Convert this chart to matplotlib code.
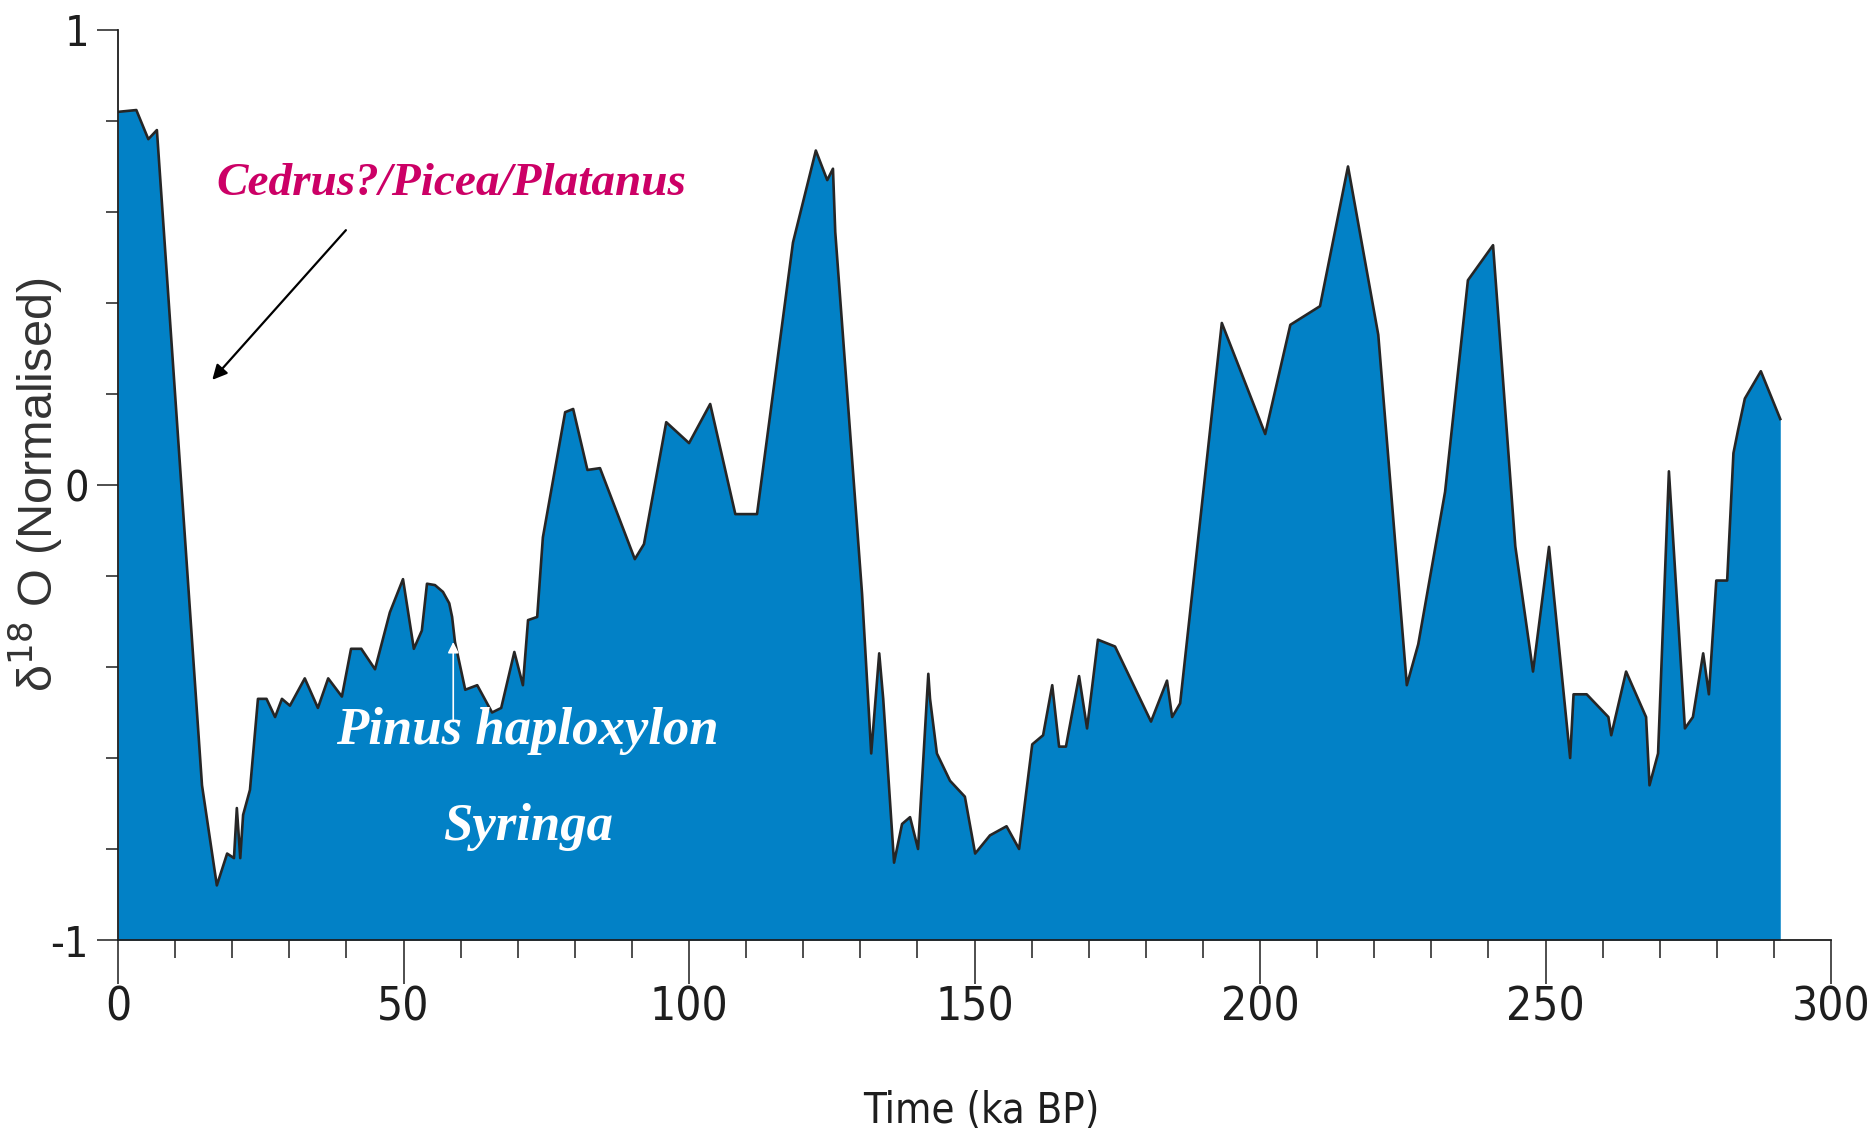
import matplotlib
matplotlib.use('Agg')
import matplotlib.pyplot as plt
from matplotlib import font_manager
from matplotlib.ticker import MultipleLocator, FixedLocator

# Age (ka BP) and normalised d18O values
ages = [0, 3.2, 5.3, 6.8, 14.7, 17.3, 19.1, 20.3, 20.8, 21.4, 21.9, 23.1,
        24.5, 26.0, 27.5, 28.7, 30.1, 32.7, 35.0, 36.8, 39.2, 40.8, 42.6,
        45.0, 47.6, 49.9, 51.8, 53.2, 54.1, 55.5, 56.9, 58.0, 58.5, 59.0,
        60.8, 62.9, 65.5, 67.1, 69.4, 70.9, 71.8, 73.4, 74.4, 78.3, 79.7,
        82.2, 84.4, 90.5, 92.1, 96.0, 100.0, 103.7, 108.1, 111.9, 118.2,
        122.2, 124.2, 125.2, 125.6, 130.3, 131.9, 133.3, 134.0, 135.9,
        137.3, 138.7, 140.1, 141.9, 142.2, 143.4, 145.7, 148.3, 150.1,
        152.7, 155.6, 157.8, 160.1, 162.0, 163.6, 164.8, 166.0, 168.3,
        169.7, 171.6, 174.6, 180.9, 183.7, 184.6, 186.0, 193.3, 200.9,
        205.3, 210.5, 215.4, 220.7, 225.7, 227.7, 232.4, 236.4, 240.8,
        244.7, 247.8, 250.6, 254.3, 254.9, 257.2, 261.0, 261.5, 264.1,
        267.6, 268.2, 269.7, 271.6, 274.4, 275.8, 277.6, 278.6, 279.9,
        281.8, 282.9, 283.7, 284.9, 287.7, 291.1]
d18o = [0.82, 0.824, 0.76, 0.78, -0.66, -0.88, -0.81, -0.82, -0.71, -0.82,
        -0.725, -0.67, -0.47, -0.47, -0.51, -0.47, -0.485, -0.425, -0.49,
        -0.425, -0.465, -0.36, -0.36, -0.405, -0.28, -0.207, -0.36, -0.32,
        -0.217, -0.22, -0.235, -0.26, -0.29, -0.345, -0.45, -0.44, -0.50,
        -0.49, -0.367, -0.44, -0.297, -0.29, -0.115, 0.16, 0.167, 0.033,
        0.037, -0.163, -0.13, 0.138, 0.092, 0.178, -0.064, -0.064, 0.533,
        0.735, 0.67, 0.695, 0.556, -0.24, -0.59, -0.37, -0.47, -0.83,
        -0.745, -0.73, -0.80, -0.415, -0.47, -0.59, -0.65, -0.685, -0.81,
        -0.77, -0.75, -0.80, -0.57, -0.55, -0.44, -0.575, -0.575, -0.42,
        -0.535, -0.34, -0.355, -0.52, -0.43, -0.51, -0.48, 0.356, 0.112,
        0.352, 0.393, 0.70, 0.33, -0.44, -0.35, -0.015, 0.45, 0.527,
        -0.135, -0.41, -0.136, -0.60, -0.46, -0.46, -0.51, -0.55, -0.41,
        -0.51, -0.66, -0.59, 0.03, -0.535, -0.51, -0.37, -0.46, -0.21,
        -0.21, 0.07, 0.12, 0.19, 0.25, 0.145]

y_major = [-1, 0, 1]
y_labels = ['-1', '0', '1']
x_major = [0, 50, 100, 150, 200, 250, 300]

# pick a condensed sans if one is installed, otherwise plain Liberation Sans
names = {f.name for f in font_manager.fontManager.ttflist}
cond_files = [f for f in font_manager.fontManager.ttflist
              if f.name == 'DejaVu Sans' and 'Condensed' in f.fname
              and 'Bold' not in f.fname and 'Oblique' not in f.fname]
if 'Liberation Sans Narrow' in names:
    cond = dict(family='Liberation Sans Narrow')
elif cond_files:
    cond = dict(family='DejaVu Sans', stretch='condensed')
else:
    cond = dict(family='Liberation Sans')

serif = ['Liberation Serif', 'DejaVu Serif']
ink = '#1e1e1e'

fig = plt.figure(figsize=(18.74, 11.39), dpi=100)
ax = fig.add_axes([0.0630, 0.1747, 0.9141, 0.7990])

ax.fill_between(ages, d18o, -1, color='#0281c6', lw=0)
ax.plot(ages, d18o, color='#262626', lw=1.9)

ax.set_xlim(0, 300)
ax.set_ylim(-1, 1)

for side in ['top', 'right']:
    ax.spines[side].set_visible(False)
for side in ['left', 'bottom']:
    ax.spines[side].set_color(ink)
    ax.spines[side].set_linewidth(1.3)

ax.xaxis.set_major_locator(FixedLocator(x_major))
ax.xaxis.set_minor_locator(MultipleLocator(10))
ax.yaxis.set_major_locator(FixedLocator(y_major))
ax.yaxis.set_minor_locator(MultipleLocator(0.2))
ax.set_yticklabels(y_labels)

ax.tick_params(axis='x', which='major', direction='out', length=32, width=1.1,
               color=ink, pad=1, labelsize=33, labelcolor=ink)
ax.tick_params(axis='x', which='minor', direction='out', length=13, width=1.1,
               color=ink)
ax.tick_params(axis='y', which='major', direction='out', length=15, width=1.1,
               color=ink, pad=6, labelsize=31, labelcolor=ink)
ax.tick_params(axis='y', which='minor', direction='out', length=9, width=1.1,
               color=ink)
for lab in ax.get_xticklabels() + ax.get_yticklabels():
    lab.set_family(cond['family'])
    if 'stretch' in cond:
        lab.set_stretch(cond['stretch'])

ax.set_xlabel('Time (ka BP)', fontsize=30, color=ink, **cond)
ax.xaxis.set_label_coords(0.504, -0.165)
ax.set_ylabel('δ$^{18}$ O (Normalised)', fontsize=35, color='#333333',
              family=['Liberation Sans', 'DejaVu Sans'])
ax.yaxis.set_label_coords(-0.031, 0.5)

# pollen taxa annotations
ax.text(58.4, 0.637, 'Cedrus?/Picea/Platanus', color='#cc0066', fontsize=34,
        family=serif, style='italic', weight='bold', ha='center', va='baseline')
ax.annotate('', xy=(16.5, 0.231), xytext=(39.9, 0.56),
            arrowprops=dict(arrowstyle='-|>', color='black', lw=1.6,
                            mutation_scale=22, shrinkA=0, shrinkB=0))

ax.text(71.7, -0.569, 'Pinus haploxylon', color='white', fontsize=38,
        family=serif, style='italic', weight='bold', ha='center', va='baseline')
ax.text(71.8, -0.78, 'Syringa', color='white', fontsize=38,
        family=serif, style='italic', weight='bold', ha='center', va='baseline')
ax.annotate('', xy=(58.7, -0.345), xytext=(58.7, -0.52),
            arrowprops=dict(arrowstyle='-|>', color='white', lw=1.2,
                            mutation_scale=16, shrinkA=0, shrinkB=0))

fig.savefig('out.png', dpi=100)
